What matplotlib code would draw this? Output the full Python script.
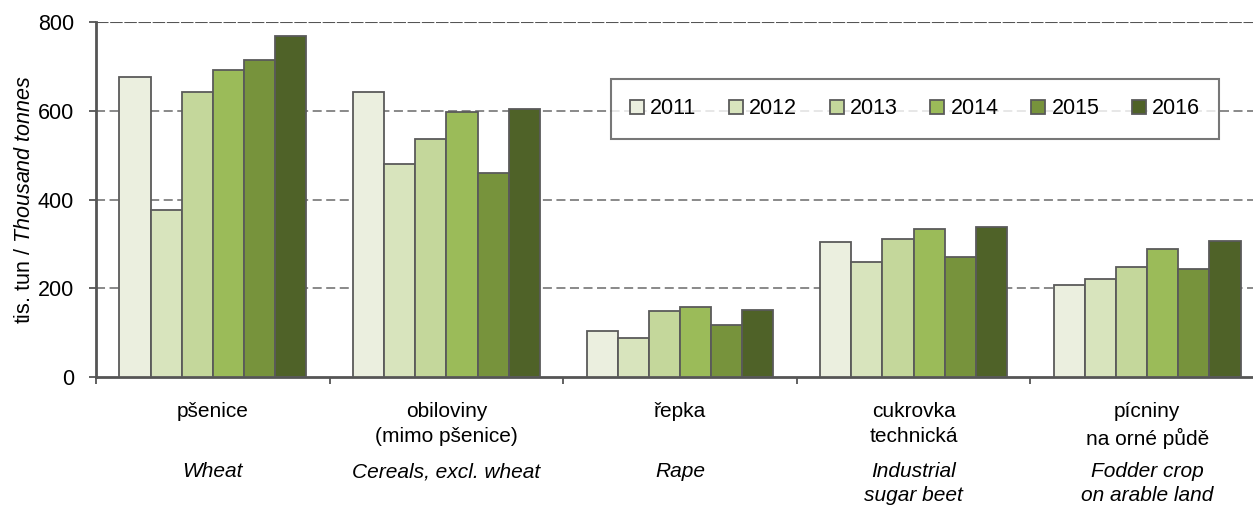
import numpy as np
import matplotlib.pyplot as plt
from matplotlib.patches import Patch

plt.rcParams['font.family'] = ['Liberation Sans', 'DejaVu Sans']
plt.rcParams['mathtext.fontset'] = 'custom'
plt.rcParams['mathtext.it'] = 'Liberation Sans:italic'
plt.rcParams['mathtext.rm'] = 'Liberation Sans'

years = ['2011', '2012', '2013', '2014', '2015', '2016']
labels_cz = ['pšenice', 'obiloviny\n(mimo pšenice)', 'řepka', 'cukrovka\ntechnická', 'pícniny\nna orné půdě']
labels_en = ['Wheat', 'Cereals, excl. wheat', 'Rape', 'Industrial\nsugar beet', 'Fodder crop\non arable land']

v2011 = [675, 643, 103, 305, 207]
v2012 = [377, 481, 89, 260, 220]
v2013 = [643, 536, 148, 310, 247]
v2014 = [692, 597, 157, 333, 288]
v2015 = [715, 459, 117, 270, 243]
v2016 = [769, 603, 152, 337, 306]
values = [v2011, v2012, v2013, v2014, v2015, v2016]

colors = ['#EBEFDF', '#D8E4BD', '#C4D79B', '#9BBB59', '#77933C', '#4F6228']
edge = '#5a5a5a'

fig = plt.figure(figsize=(12.53, 5.05), dpi=100)
ax = fig.add_axes([96/1253, 1-377/505, (1264-96)/1253, 355/505])

x = np.arange(len(labels_cz))
w = 0.8/6
for i, (vals, c) in enumerate(zip(values, colors)):
    ax.bar(x - 0.4 + w*(i+0.5), vals, w, color=c, edgecolor=edge, linewidth=1.3, zorder=3)

for yv in [200, 400, 600]:
    ax.axhline(yv, color='#808080', lw=1.3, dashes=(5, 2.5), zorder=1)
ax.axhline(800, color='#555555', lw=1.5, dashes=(6, 0.8), zorder=1)

ax.set_xlim(-0.5, 4.5)
ax.set_ylim(0, 800)
ax.set_yticks([0, 200, 400, 600, 800])
ax.set_xticks(np.arange(-0.5, 5, 1))
ax.set_xticklabels([])
ax.tick_params(axis='y', direction='out', length=5, width=1.3, color='#555555', labelsize=15.5, pad=11)
ax.tick_params(axis='x', direction='out', length=5, width=1.3, color='#555555')
for s in ['top', 'right']:
    ax.spines[s].set_visible(False)
for s in ['left', 'bottom']:
    ax.spines[s].set_color('#555555')
    ax.spines[s].set_linewidth(2)

ax.set_ylabel(r'tis. tun / $\it{Thousand\ tonnes}$', fontsize=15.5, labelpad=2)

tr = ax.get_xaxis_transform()
for i in range(len(labels_cz)):
    ax.text(x[i], -0.07, labels_cz[i], transform=tr, ha='center', va='top',
            fontsize=15, linespacing=1.4)
    ax.text(x[i], -0.24, labels_en[i], transform=tr, ha='center', va='top',
            fontsize=15, style='italic', linespacing=1.35)

handles = [Patch(facecolor=c, edgecolor=edge, linewidth=1.3) for c in colors]
leg = fig.legend(handles, years, loc='center', bbox_to_anchor=(915/1253, 1-109/505),
                 ncol=6, fontsize=15.5, frameon=True, fancybox=False,
                 handlelength=0.65, handleheight=0.65, handletextpad=0.3,
                 columnspacing=1.5, borderpad=0.9)
leg.get_frame().set_edgecolor('#555555')
leg.get_frame().set_linewidth(1.5)

fig.savefig('out.png', dpi=100)
